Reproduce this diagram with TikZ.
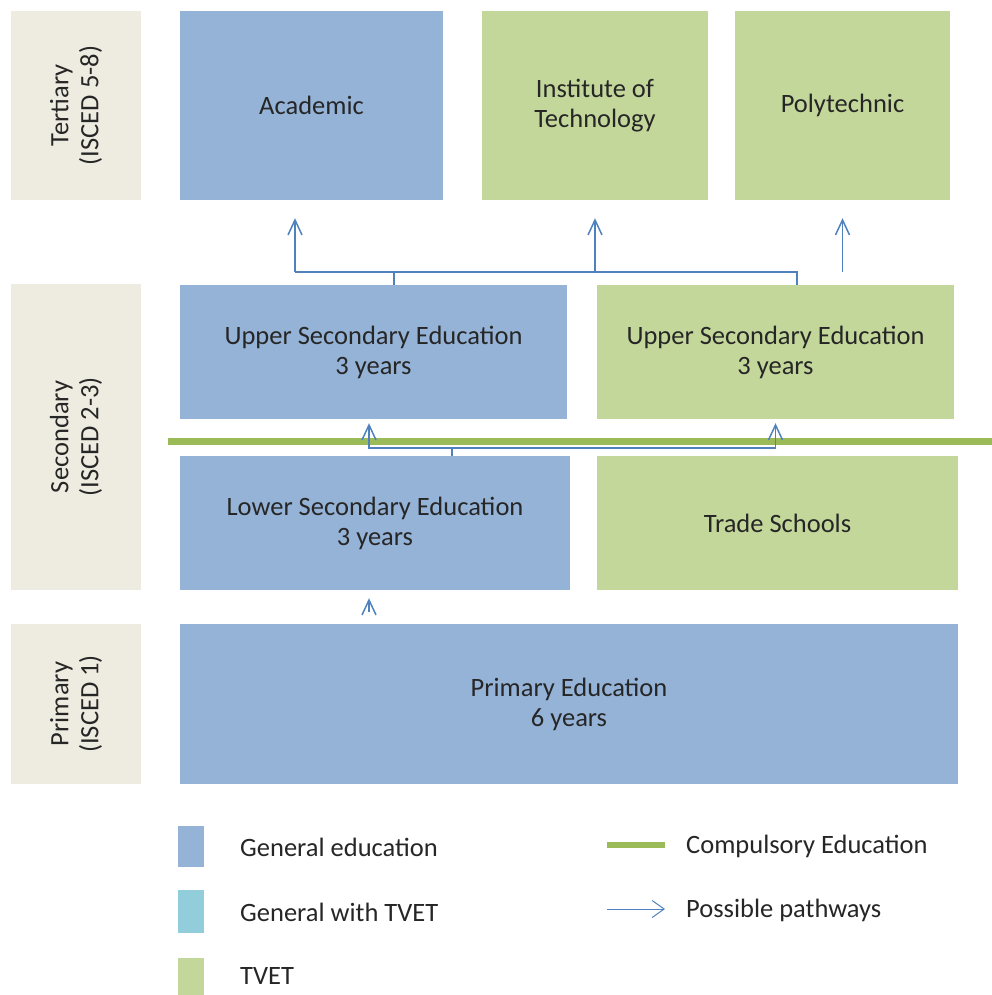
\documentclass[tikz,border=0pt]{standalone}
\usepackage{fontspec}
\setmainfont{Carlito}
\usepackage{xcolor}
\usetikzlibrary{positioning,arrows.meta}

\definecolor{genblue}{HTML}{95B3D7}
\definecolor{mixblue}{HTML}{92CDDC}
\definecolor{tvetgreen}{HTML}{C4D79B}
\definecolor{stagegray}{HTML}{EEECE1}
\definecolor{linegreen}{HTML}{9BBB59}
\definecolor{pathblue}{HTML}{4F81BD}

\begin{document}
\begin{tikzpicture}[x=1pt, y=-1pt,
    every node/.style = {inner sep=0pt, align=center, text=black!85,
        font=\fontsize{26.5}{30}\selectfont},
    stagebox/.style = {fill=stagegray, rotate=90},
    general/.style = {fill=genblue},
    tvet/.style = {fill=tvetgreen},
    link/.style = {draw=pathblue, line width=1.5pt},
    pathway/.style = {link, -{Straight Barb[length=15pt,width=14pt]}},
    compulsory/.style = {draw=linegreen, line width=7pt}]
    \useasboundingbox (0,0) rectangle (992,995);

    % levels
    \node[stagebox, minimum width=189pt, minimum height=130pt] (tertiary) at (76,105.5) {Tertiary\\(ISCED 5-8)};
    \node[stagebox, minimum width=306pt, minimum height=130pt] (secondary) at (76,437) {Secondary\\(ISCED 2-3)};
    \node[stagebox, minimum width=160pt, minimum height=130pt] (primlevel) at (76,704) {Primary\\(ISCED 1)};

    % tertiary
    \node[general, minimum width=263pt, minimum height=189pt] (academic) at (311.5,105.5) {Academic};
    \node[tvet, minimum width=226pt, minimum height=189pt] (institute) at (595,105.5) {Institute of\\Technology};
    \node[tvet, minimum width=215pt, minimum height=189pt] (polytechnic) at (842.5,105.5) {Polytechnic};

    % secondary
    \node[general, minimum width=387pt, minimum height=134pt] (upgen) at (373.5,352) {Upper Secondary Education\\3 years};
    \node[tvet, minimum width=357pt, minimum height=134pt] (uptvet) at (775.5,352) {Upper Secondary Education\\3 years};
    \node[general, minimum width=390pt, minimum height=134pt] (lowgen) at (375,523) {Lower Secondary Education\\3 years};
    \node[tvet, minimum width=361pt, minimum height=134pt] (trade) at (777.5,523) {Trade Schools};

    % primary
    \node[general, minimum width=778pt, minimum height=160pt] (primary) at (569,704) {Primary Education\\6 years};

    % pathways to tertiary
    \coordinate (bus) at ([yshift=13pt]upgen.north);
    \draw[link] ([xshift=20.5pt]upgen.north) -- ([xshift=20.5pt]bus);
    \draw[link] ([xshift=21.5pt]uptvet.north) -- ([xshift=21.5pt]uptvet.north |- bus)
        -- ([xshift=-16.5pt]academic.south |- bus);
    \draw[pathway] ([xshift=-16.5pt]academic.south |- bus) -- ([xshift=-16.5pt,yshift=-18pt]academic.south);
    \draw[pathway] (institute.south |- bus) -- ([yshift=-18pt]institute.south);
    \draw[pathway] (polytechnic.south |- bus) -- ([yshift=-18pt]polytechnic.south);

    % compulsory education line
    \coordinate (cleft) at (168,441);
    \coordinate (cright) at (992,441);
    \draw[compulsory] (cleft) -- (cright);

    % pathways to upper secondary
    \draw[link] ([xshift=77pt]lowgen.north) -- ++(0,-8) coordinate (mid);
    \draw[pathway] (mid) -| ([xshift=-4.5pt,yshift=-4pt]upgen.south);
    \draw[pathway] (mid) -| ([yshift=-4pt]uptvet.south);

    % primary to lower secondary
    \draw[pathway] ([xshift=-200pt,yshift=12pt]primary.north) -- ([xshift=-6pt,yshift=-8pt]lowgen.south);

    % legend
    \node[general, minimum width=26pt, minimum height=41pt] (keygen) at (191,846.5) {};
    \node[fill=mixblue, minimum width=26pt, minimum height=43pt] (keymix) at (191,911.5) {};
    \node[tvet, minimum width=26pt, minimum height=40pt] (keytvet) at (191,978) {};
    \node[anchor=west] (labgen) at (240,847.5) {General education};
    \node[anchor=west] (labmix) at (240,912) {General with TVET};
    \node[anchor=west] (labtvet) at (240,976) {TVET};

    \coordinate (keycomp) at (607,845);
    \coordinate (keypath) at (607,909);
    \node[anchor=west] (labcomp) at (686,846) {Compulsory Education};
    \node[anchor=west] (labpath) at (686,910) {Possible pathways};
    \draw[compulsory, line width=6pt] (keycomp) -- ++(58,0);
    \draw[link, line width=1pt, -{Straight Barb[length=12pt,width=17pt]}] (keypath) -- ++(58,0);
\end{tikzpicture}
\end{document}
